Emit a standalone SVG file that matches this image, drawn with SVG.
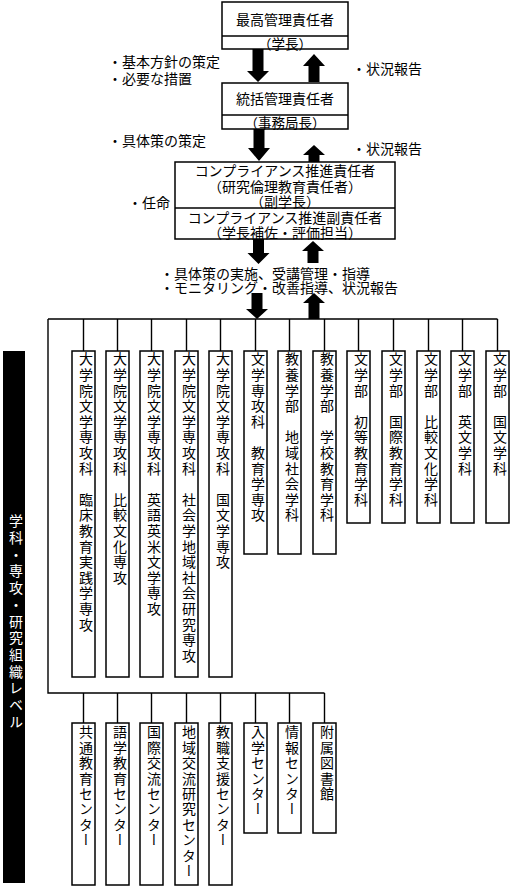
<svg xmlns="http://www.w3.org/2000/svg" width="513" height="889" viewBox="0 0 513 889">
<style>
text{font-family:"Noto Sans CJK JP","Noto Sans CJK SC",sans-serif;fill:#000;}
.h{font-size:14px;dominant-baseline:central;}
.s{font-size:13.5px;dominant-baseline:central;}
.c{text-anchor:middle;}
.box{fill:#fff;stroke:#000;stroke-width:1.5;}
.ln{fill:none;stroke:#000;stroke-width:1.4;}
.v{font-size:14px;writing-mode:vertical-rl;letter-spacing:1.6px;}
.vb{font-size:14px;writing-mode:vertical-rl;letter-spacing:1.4px;}
.bar{font-size:14px;writing-mode:vertical-rl;letter-spacing:2.7px;fill:#fff;}
.arr{fill:#000;}
</style>
<rect width="513" height="889" fill="#fff"/>

<g id="connectors">
  <path class="ln" d="M48,319 H497.5 M48,319 V693 H324.5"/>
  <path class="ln" d="M83.5,319V351 M117.5,319V351 M151.5,319V351 M186.5,319V351 M220.5,319V351 M255.5,319V351 M289.5,319V351 M324.5,319V351 M358.5,319V351 M393.5,319V351 M428.5,319V351 M462.5,319V351 M497.5,319V351"/>
  <path class="ln" d="M83.5,693V723 M117.5,693V723 M151.5,693V723 M186.5,693V723 M220.5,693V723 M255.5,693V723 M289.5,693V723 M324.5,693V723"/>
  <path class="arr" d="M252.5,49H263.5V71H269L258,82L247,71H252.5Z"/>
  <path class="arr" d="M314,54L325,66H319.5V82H308.5V66H303Z"/>
  <path class="arr" d="M253.5,129H264.5V148H270L259,161L248,148H253.5Z"/>
  <path class="arr" d="M314,145L325,155H319.5V162H308.5V155H303Z"/>
  <path class="arr" d="M253,239H264V253H269.5L258.5,264L247.5,253H253Z"/>
  <path class="arr" d="M313,241L324,251H318.5V263H307.5V251H302Z"/>
  <path class="arr" d="M251.5,293H262.5V309H268L257,319L246,309H251.5Z"/>
  <path class="arr" d="M314,293L325,303H319.5V319H308.5V303H303Z"/>
</g>

<g id="labels">
  <text class="h" x="108" y="61">・基本方針の策定</text>
  <text class="h" x="108" y="78">・必要な措置</text>
  <text class="h" x="352" y="68">・状況報告</text>
  <text class="h" x="108" y="140">・具体策の策定</text>
  <text class="h" x="352" y="148">・状況報告</text>
  <text class="h" x="128" y="202">・任命</text>
  <text class="h" x="160" y="273">・具体策の実施、受講管理・指導</text>
  <text class="h" x="160" y="287">・モニタリング・改善指導、状況報告</text>
</g>

<g id="n-top">
  <rect class="box" x="222" y="2" width="126" height="47"/>
  <line class="ln" x1="222" y1="36" x2="348" y2="36"/>
  <text class="h c" x="285" y="19">最高管理責任者</text>
  <text class="s c" x="285" y="42.5">（学長）</text>
</g>
<g id="n-general">
  <rect class="box" x="222" y="83" width="126" height="46"/>
  <line class="ln" x1="222" y1="115" x2="348" y2="115"/>
  <text class="h c" x="285" y="98">統括管理責任者</text>
  <text class="s c" x="285" y="122">（事務局長）</text>
</g>
<g id="n-compliance">
  <rect class="box" x="175" y="162" width="220" height="77"/>
  <line class="ln" x1="175" y1="208" x2="395" y2="208"/>
  <text class="h c" x="285" y="170">コンプライアンス推進責任者</text>
  <text class="h c" x="285" y="186">（研究倫理教育責任者）</text>
  <text class="h c" x="285" y="201">（副学長）</text>
  <text class="h c" x="285" y="217">コンプライアンス推進副責任者</text>
  <text class="h c" x="285" y="231.5">（学長補佐・評価担当）</text>
</g>

<g id="n-level">
  <rect x="3" y="351" width="22" height="532" fill="#000"/>
  <text class="bar" x="16" y="514">学科・専攻・研究組織レベル</text>
</g>

<g id="n-d1"><rect class="box" x="72" y="351" width="23" height="326"/><text class="v" x="86" y="352">大学院文学専攻科　臨床教育実践学専攻</text></g>
<g id="n-d2"><rect class="box" x="106" y="351" width="23" height="326"/><text class="v" x="120" y="352">大学院文学専攻科　比較文化専攻</text></g>
<g id="n-d3"><rect class="box" x="140" y="351" width="23" height="326"/><text class="v" x="154" y="352">大学院文学専攻科　英語英米文学専攻</text></g>
<g id="n-d4"><rect class="box" x="175" y="351" width="23" height="326"/><text class="v" x="189" y="352">大学院文学専攻科　社会学地域社会研究専攻</text></g>
<g id="n-d5"><rect class="box" x="209" y="351" width="23" height="326"/><text class="v" x="223" y="352">大学院文学専攻科　国文学専攻</text></g>
<g id="n-d6"><rect class="box" x="244" y="351" width="23" height="203"/><text class="v" x="258" y="352">文学専攻科　教育学専攻</text></g>
<g id="n-d7"><rect class="box" x="278" y="351" width="23" height="203"/><text class="v" x="292" y="352">教養学部　地域社会学科</text></g>
<g id="n-d8"><rect class="box" x="313" y="351" width="23" height="203"/><text class="v" x="327" y="352">教養学部　学校教育学科</text></g>
<g id="n-d9"><rect class="box" x="347" y="351" width="23" height="172"/><text class="v" x="361" y="352">文学部　初等教育学科</text></g>
<g id="n-d10"><rect class="box" x="382" y="351" width="23" height="172"/><text class="v" x="396" y="352">文学部　国際教育学科</text></g>
<g id="n-d11"><rect class="box" x="417" y="351" width="23" height="172"/><text class="v" x="431" y="352">文学部　比較文化学科</text></g>
<g id="n-d12"><rect class="box" x="451" y="351" width="23" height="172"/><text class="v" x="465" y="352">文学部　英文学科</text></g>
<g id="n-d13"><rect class="box" x="486" y="351" width="23" height="172"/><text class="v" x="500" y="352">文学部　国文学科</text></g>

<g id="n-c1"><rect class="box" x="72" y="723" width="23" height="162"/><text class="vb" x="86" y="725">共通教育センター</text></g>
<g id="n-c2"><rect class="box" x="106" y="723" width="23" height="162"/><text class="vb" x="120" y="725">語学教育センター</text></g>
<g id="n-c3"><rect class="box" x="140" y="723" width="23" height="162"/><text class="vb" x="154" y="725">国際交流センター</text></g>
<g id="n-c4"><rect class="box" x="175" y="723" width="23" height="162"/><text class="vb" x="189" y="725">地域交流研究センター</text></g>
<g id="n-c5"><rect class="box" x="209" y="723" width="23" height="162"/><text class="vb" x="223" y="725">教職支援センター</text></g>
<g id="n-c6"><rect class="box" x="244" y="723" width="23" height="110"/><text class="vb" x="258" y="725">入学センター</text></g>
<g id="n-c7"><rect class="box" x="278" y="723" width="23" height="110"/><text class="vb" x="292" y="725">情報センター</text></g>
<g id="n-c8"><rect class="box" x="313" y="723" width="23" height="110"/><text class="vb" x="327" y="725">附属図書館</text></g>
</svg>
